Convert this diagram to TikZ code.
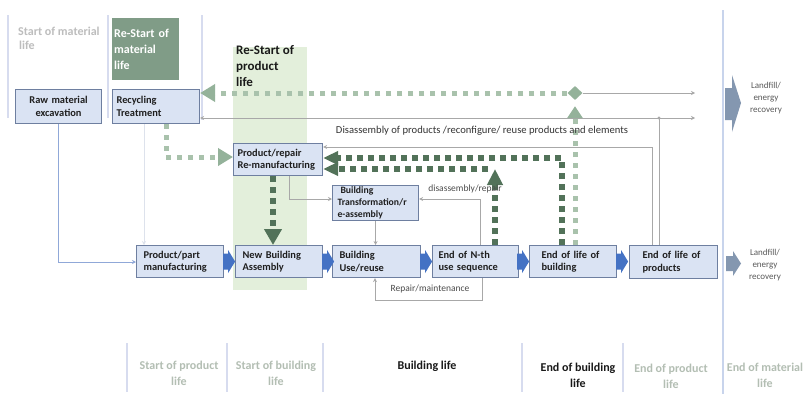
\documentclass[tikz,border=0pt]{standalone}
\usepackage{fontspec}
\setmainfont{Carlito}
\usetikzlibrary{arrows.meta,shapes.geometric}
\definecolor{boxfill}{HTML}{DAE3F3}
\definecolor{boxline}{HTML}{6E7FA0}
\definecolor{bluearr}{HTML}{4472C4}
\definecolor{lgreen}{HTML}{A9C2AC}
\definecolor{lgreenhead}{HTML}{94B29A}
\definecolor{dgreen}{HTML}{527259}
\definecolor{colfill}{HTML}{E3EFDB}
\definecolor{rsfill}{HTML}{809C87}
\definecolor{divcol}{HTML}{D7DCEF}
\definecolor{divmain}{HTML}{C8D4EC}
\definecolor{thinline}{HTML}{A8A8A8}
\definecolor{thinblue}{HTML}{90A8D8}
\definecolor{paleline}{HTML}{DDE2EC}
\definecolor{greyt}{HTML}{BDBDBD}
\definecolor{greyg}{HTML}{B3BEB3}
\definecolor{landarr}{HTML}{8497B0}
\begin{document}
\begin{tikzpicture}[x=1pt,y=-1pt,
  box/.style={draw=boxline, fill=boxfill, line width=1.1pt, text=black!88,
    font=\bfseries\fontsize{10.4}{12.5}\selectfont, align=left, anchor=north west,
    inner xsep=6pt, inner ysep=0pt},
  lgdot/.style={draw=lgreen, line width=5pt, dash pattern=on 5pt off 6pt},
  dgdot/.style={draw=dgreen, line width=6pt, dash pattern=on 6pt off 5pt},
  lghead/.style={-{Triangle[length=15pt,width=17pt,color=lgreenhead]}},
  dghead/.style={-{Triangle[length=15pt,width=13pt]}},
  thin/.style={draw=thinline, line width=0.8pt},
  tip/.style={-{Stealth[length=4pt,width=4pt]}},
  divider/.style={draw=divcol, line width=1.3pt},
  lbl/.style={font=\fontsize{9.5}{11}\selectfont, text=black!70, inner sep=0pt},
  btm/.style={font=\bfseries\fontsize{12}{15.5}\selectfont, align=center, anchor=north, inner sep=0pt},
  land/.style={font=\fontsize{9}{12}\selectfont, align=center, text=black!65, inner sep=0pt},
  blockarrow/.pic={\fill[bluearr] (0,-8) -- (5,-8) -- (5,-11.5) -- (12,0) -- (5,11.5) -- (5,8) -- (0,8) -- cycle;}
]
\path[use as bounding box, fill=white] (0,0) rectangle (803,394);
% green column
\fill[colfill] (233,47) rectangle (307,290);
% dividers
\draw[divider] (8,15) -- (8,118);
\draw[divider] (108,15) -- (108,118);
\draw[divider] (202,15) -- (202,120);
\draw[divider] (127,343) -- (127,392);
\draw[divider] (227,343) -- (227,392);
\draw[divider] (323,343) -- (323,392);
\draw[divider] (522,343) -- (522,392);
\draw[divider] (623,343) -- (623,392);
\draw[divmain, line width=2.5pt] (723,10) -- (723,394);

% headers
\node[font=\bfseries\fontsize{12}{13.5}\selectfont, text=greyt, align=left, anchor=north west, inner sep=0pt] (tsml) at (18,27) {Start of material\\\hspace{1pt}life};
\node[fill=rsfill, minimum width=67pt, minimum height=62pt, text width=63pt, inner xsep=2pt, anchor=north west, align=left, text=white, font=\bfseries\fontsize{12}{16}\selectfont] (trsm) at (112,18) {Re-Start of\\material\\life};
\node[font=\bfseries\fontsize{13}{16}\selectfont, text=black!90, align=left, anchor=north west, inner sep=0pt] (trsp) at (236,45) {Re-Start of\\product\\life};

% boxes
\node[box, minimum width=86pt, minimum height=34pt, text width=74pt, align=center] (raw) at (15,89) {Raw material\\excavation};
\node[box, minimum width=87pt, minimum height=34pt, inner xsep=4pt, text width=79pt] (rec) at (112,89) {Recycling\\Treatment};
\node[box, minimum width=89pt, minimum height=32pt, inner xsep=4pt, text width=81pt] (prm) at (233,143) {Product/repair\\Re-manufacturing};
\node[box, minimum width=86pt, minimum height=35pt, inner xsep=5pt, text width=76pt, font=\bfseries\fontsize{9.7}{12}\selectfont] (bt) at (332,185) {\hspace{3pt}Building\\Transformation/r\\e-assembly};
\node[box, minimum width=87pt, minimum height=32pt, inner xsep=7pt, text width=73pt] (ppm) at (136,245) {Product/part\\manufacturing};
\node[box, minimum width=87pt, minimum height=32pt, inner xsep=7pt, text width=73pt] (nba) at (235,245) {New Building\\Assembly};
\node[box, minimum width=88pt, minimum height=32pt, inner xsep=7pt, text width=74pt] (bur) at (332,245) {Building\\Use/reuse};
\node[box, minimum width=86pt, minimum height=32pt, inner xsep=6pt, text width=74pt] (enu) at (432,245) {End of N-th\\use sequence};
\node[box, minimum width=87pt, minimum height=32pt, inner xsep=12pt, text width=63pt] (elb) at (529,245) {End of life of\\building};
\node[box, minimum width=88pt, minimum height=33pt, inner xsep=13pt, text width=62pt] (elp) at (629,245) {End of life of\\products};

% block arrows
\path (ppm.east) ++(-1,0) pic {blockarrow};
\path (nba.east) ++(-1,0) pic {blockarrow};
\path (bur.east) ++(-1,0) pic {blockarrow};
\path (enu.east) ++(-2,0) pic {blockarrow};
\path (elb.east) ++(-1,0) pic {blockarrow};

% landfill arrows
\fill[landarr] (725,88) -- (732,88) -- (732,75) -- (741,103) -- (732,132) -- (732,120) -- (725,120) -- cycle;
\fill[landarr] (726,256) -- (733,256) -- (733,251) -- (741,263.5) -- (733,276) -- (733,271) -- (726,271) -- cycle;
\node[land] (lf1) at (766,98) {Landfill/\\energy\\recovery};
\node[land] (lf2) at (765,265) {Landfill/\\energy\\recovery};

% coordinates
\coordinate (c1) at (562,158);
\coordinate (c2) at (495,169);
\coordinate (c3) at (488,169);
\coordinate (c5) at (166,157);
\coordinate (c6) at (58,262);
\coordinate (c7) at (144,0);
\coordinate (c8) at (289,199);
\coordinate (c9) at (480,199);
\coordinate (c10) at (482,300);
\coordinate (c11) at (375,300);
\coordinate (c12) at (652,147);
\coordinate (c13) at (659,118);
\coordinate (e1) at (695,93);
\coordinate (e2) at (695,118);
\coordinate (dg) at (273,0);

% thin connectors
\draw[draw=thinblue, line width=0.8pt, tip] (c6 |- raw.south) -- (c6) -- (c6 -| ppm.west);
\draw[draw=paleline, line width=0.8pt, tip] (c7 |- rec.south) -- (c7 |- ppm.north);
\draw[thin, tip] (c8 |- prm.south) -- (c8) -- (c8 -| bt.west);
\draw[thin, tip] (bt.south) -- (bt.south |- bur.north);
\draw[thin, tip] (c9 |- enu.north) -- (c9) -- (c9 -| bt.east);
\draw[thin, tip] (c10 |- enu.south) -- (c10) -- (c11) -- (c11 |- bur.south);
\draw[thin, tip] (c12 |- elp.north) -- (c12) -- (c12 -| prm.east);
\draw[thin, tip] (c13 |- elp.north) -- (c13) -- (c13 -| rec.east);
\draw[thin, tip] (c13) -- (e2);
\fill[thinline] (c13) circle (1.6pt);

% diamond and light green dotted
\node[diamond, fill=lgreenhead, minimum width=15pt, minimum height=14pt, inner sep=0pt] (dia) at (575,93) {};
\draw[thin, tip] (dia.east) -- (e1);
\draw[lgdot, lghead] (dia.west) -- (dia.west -| rec.east);
\draw[lgdot, -{Triangle[length=12pt,width=15pt,color=lgreenhead]}] (elb.north -| dia) -- ([yshift=-6pt]dia.south);
\draw[lgdot, lghead] (c5 |- rec.south) -- (c5) -- (c5 -| prm.west);

% dark green dotted
\draw[dgdot, dghead] (c1 |- elb.north) -- (c1) -- (c1 -| prm.east);
\draw[dgdot, -{Triangle[length=16pt,width=15pt]}] (c2 |- enu.north) -- (c2);
\draw[dgdot, dghead] (c3) -- (c3 -| prm.east);
\draw[dgdot, -{Triangle[length=16pt,width=17pt]}] (dg |- prm.south) -- (dg |- nba.north);

% labels
\node[font=\fontsize{10.6}{12}\selectfont, text=black!80, inner sep=0pt] (dislbl) at (482,131) {Disassembly of products /reconfigure/ reuse products and elements};
\node[lbl] (drlbl) at (465,189) {disassembly/repair};
\node[lbl] (rmlbl) at (430,289) {Repair/maintenance};

% bottom labels
\node[btm, text=greyg] (b1) at (179,361) {Start of product\\life};
\node[btm, text=greyg] (b2) at (276,361) {Start of building\\life};
\node[btm, text=black!90] (b3) at (427,361) {Building life};
\node[btm, text=black!90] (b4) at (578,363) {End of building\\life};
\node[btm, text=greyg] (b5) at (671,364) {End of product\\life};
\node[btm, text=greyg] (b6) at (765,363) {End of material\\life};
\end{tikzpicture}
\end{document}
